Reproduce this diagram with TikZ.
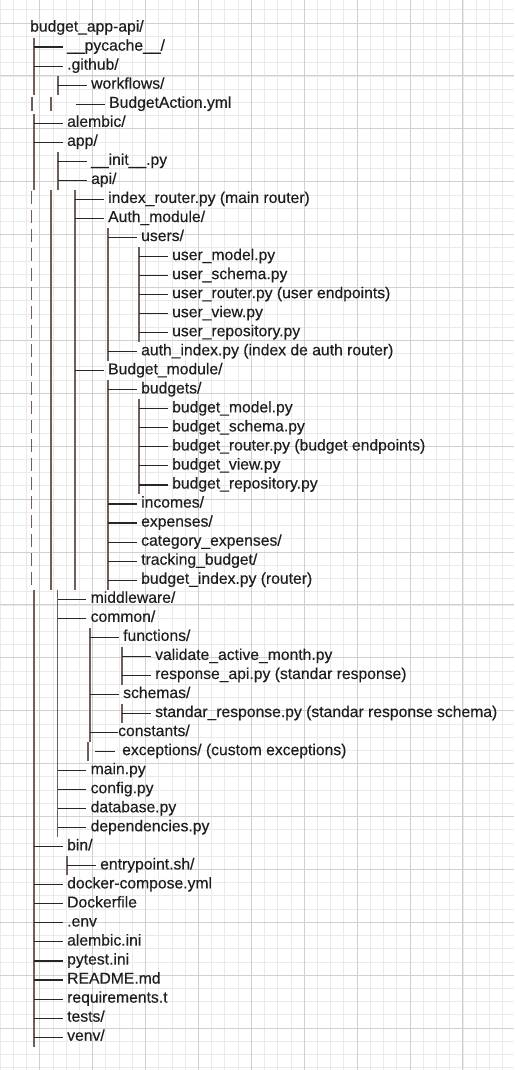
\documentclass[tikz,border=0pt]{standalone}
\usepackage{fontspec}
\setmainfont{Liberation Sans}[FakeBold=0.3]
\usetikzlibrary{calc}

\definecolor{gridminor}{HTML}{EAEAEA}
\definecolor{gridmajor}{HTML}{D0D0D0}
\definecolor{branchcol}{HTML}{262626}
\definecolor{barcol}{HTML}{6F5F58}
\definecolor{textcol}{HTML}{1E1E1E}

\tikzset{
    entry/.style={anchor=west, inner sep=0pt, text height=.72em, text depth=0pt,
        text=textcol, font=\fontsize{15.7}{19}\selectfont},
    branch/.style={draw=branchcol, line width=1.1pt},
    bar/.style={draw=barcol, line width=1.1pt},
}

\begin{document}
\begin{tikzpicture}[x=1pt, y=-1pt]
    \useasboundingbox (0,0) rectangle (514,1070);
    \fill[white] (0,0) rectangle (514,1070);

    % grid paper behind the tree
    \foreach \k in {0,...,38} \draw[gridminor, line width=.8pt] (0.04+13.225*\k,0) -- (0.04+13.225*\k,1070);
    \foreach \k in {0,...,80} \draw[gridminor, line width=.8pt] (0,9.78+13.225*\k) -- (514,9.78+13.225*\k);
    \foreach \k in {0,...,9} \draw[gridmajor, line width=.9pt] (39.7+52.9*\k,0) -- (39.7+52.9*\k,1070);
    \foreach \k in {0,...,19} \draw[gridmajor, line width=.9pt] (0,23+52.9*\k) -- (514,23+52.9*\k);

    % vertical bars: x / first row / last row
    \foreach \x/\a/\b in {34/1/3, 34/5/8, 34/30/53, 58/3/3, 58/7/8, 51/9/29, 57.5/30/42,
        75/9/29, 108/11/17, 139/12/16, 108/19/29, 139/20/24, 90/32/37, 88/38/38,
        122/33/34, 122/36/36, 67/44/44}
        \draw[bar] (\x,{28+19.04*\a-9.5}) -- (\x,{28+19.04*\b+9.5});
    % loose bar pieces
    \foreach \x in {32,51} \draw[bar] (\x,97) -- (\x,111);
    \foreach \i in {9,...,29} \draw[bar] (31.7,{28+19.04*\i-8}) -- ++(0,13);

    % root
    \node[entry] (r0) at (30,28) {budget\_app-api/};

    % entries: row / bar x / text
    \foreach \i/\bx/\txt in {
        1/34/{\_\_pycache\_\_/},
        2/34/{.github/},
        3/58/{workflows/},
        4/76/{BudgetAction.yml},
        5/34/{alembic/},
        6/34/{app/},
        7/58/{\_\_init\_\_.py},
        8/58/{api/},
        9/75/{index\_router.py (main router)},
        10/75/{Auth\_module/},
        11/108/{users/},
        12/139/{user\_model.py},
        13/139/{user\_schema.py},
        14/139/{user\_router.py (user endpoints)},
        15/139/{user\_view.py},
        16/139/{user\_repository.py},
        17/108/{auth\_index.py (index de auth router)},
        18/75/{Budget\_module/},
        19/108/{budgets/},
        20/139/{budget\_model.py},
        21/139/{budget\_schema.py},
        22/139/{budget\_router.py (budget endpoints)},
        23/139/{budget\_view.py},
        24/139/{budget\_repository.py},
        25/108/{incomes/},
        26/108/{expenses/},
        27/108/{category\_expenses/},
        28/108/{tracking\_budget/},
        29/108/{budget\_index.py (router)},
        30/57.5/{middleware/},
        31/57.5/{common/},
        32/90/{functions/},
        33/122/{validate\_active\_month.py},
        34/122/{response\_api.py (standar response)},
        35/90/{schemas/},
        36/122/{standar\_response.py (standar response schema)},
        39/57.5/{main.py},
        40/57.5/{config.py},
        41/57.5/{database.py},
        42/57.5/{dependencies.py},
        43/34/{bin/},
        44/67/{entrypoint.sh/},
        45/34/{docker-compose.yml},
        46/34/{Dockerfile},
        47/34/{.env},
        48/34/{alembic.ini},
        49/34/{pytest.ini},
        50/34/{README.md},
        51/34/{requirements.t},
        52/34/{tests/},
        53/34/{venv/}}{
        \pgfmathsetmacro\y{28+19.04*\i}
        \node[entry] (r\i) at (\bx+33,\y) {\txt};
        \coordinate (b\i) at (\bx,\y);
        \draw[branch] (b\i) -- ([xshift=-4.5pt]r\i.west);
    }

    % constants/ sits on its branch, exceptions/ has a short one
    \node[entry] (r37) at (118,{28+19.04*37}) {constants/};
    \coordinate (b37) at (90,{28+19.04*37});
    \draw[branch] (b37) -- (r37.west);
    \node[entry] (r38) at (122,{28+19.04*38}) {exceptions/ (custom exceptions)};
    \coordinate (b38) at (95,{28+19.04*38});
    \draw[branch] (b38) -- ([xshift=-7pt]r38.west);
\end{tikzpicture}
\end{document}
